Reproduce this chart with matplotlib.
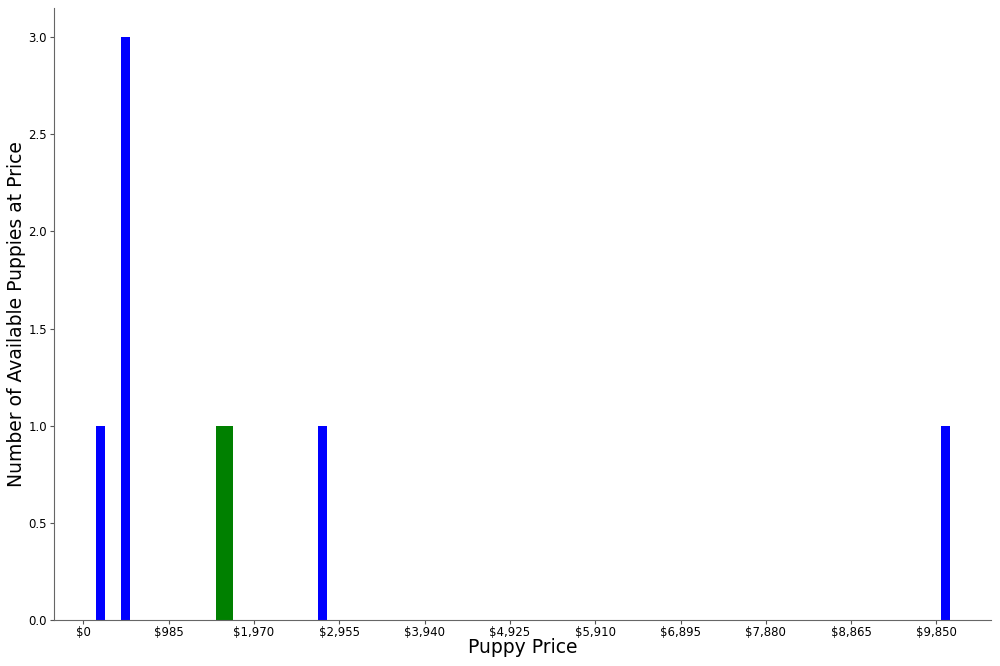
import matplotlib
matplotlib.use('Agg')
import matplotlib.pyplot as plt
import numpy as np
from matplotlib.ticker import FuncFormatter

# 가격 구간 (왼쪽 끝, 폭) 과 개수
bin_left = [140, 435, 1530, 2710, 9900]
bin_width = [105, 105, 200, 105, 105]
counts = [1, 3, 1, 1, 1]
colors = ['blue', 'blue', 'green', 'blue', 'blue']

tick_step = 985
tick_vals = np.arange(0, 9851, tick_step)

fig = plt.figure(figsize=(10, 6.66), dpi=100)
ax = fig.add_axes([0.054, 0.069, 0.937, 0.919])

ax.bar(bin_left, counts, width=bin_width, align='edge', color=colors)

ax.set_xlim(-340, 10480)
ax.set_ylim(0, 3.15)
ax.set_xticks(tick_vals)
ax.xaxis.set_major_formatter(FuncFormatter(lambda v, p: f"${v:,.0f}"))
ax.set_yticks(np.arange(0, 3.01, 0.5))
ax.yaxis.set_major_formatter(FuncFormatter(lambda v, p: f"{v:.1f}"))
ax.tick_params(labelsize=8.5, color='#555555', length=3, pad=2)
ax.tick_params(axis='x', pad=1)

for s in ['top', 'right']:
    ax.spines[s].set_visible(False)
for s in ['left', 'bottom']:
    ax.spines[s].set_color('#666666')

ax.set_xlabel('Puppy Price', fontsize=13.5)
ax.set_ylabel('Number of Available Puppies at Price', fontsize=13.5)
ax.xaxis.set_label_coords(0.5, -0.029)
ax.yaxis.set_label_coords(-0.030, 0.5)

fig.savefig('out.png', dpi=100)
